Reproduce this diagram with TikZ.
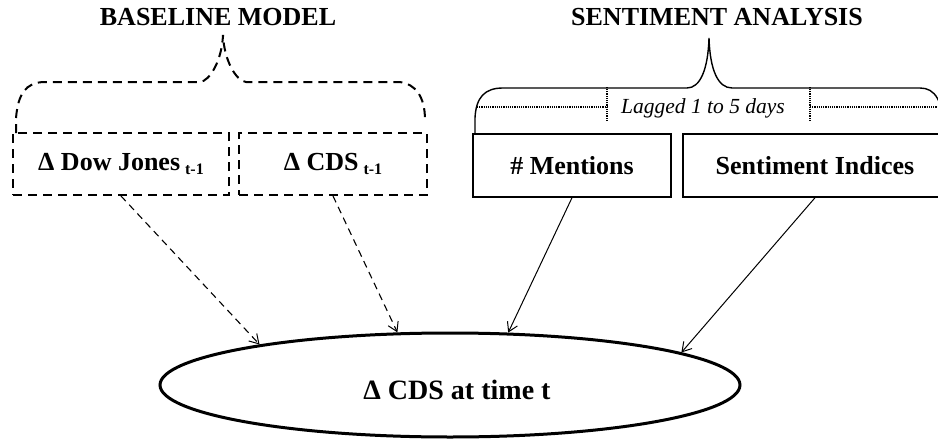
\documentclass[tikz,border=0pt]{standalone}
\usepackage{fontspec}
\setmainfont{Liberation Serif}
\usetikzlibrary{arrows.meta,shapes.geometric}
\newcommand\lowsub[1]{\hspace{5pt}\raisebox{-4pt}{\fontsize{16}{16}\selectfont #1}}
\begin{document}
\begin{tikzpicture}[x=1pt,y=-1pt,
  bigfont/.style={font=\fontsize{26}{30}\selectfont\bfseries},
  titletext/.style={bigfont, inner sep=0pt},
  dbox/.style={draw, dash pattern=on 9pt off 6pt, line width=2pt, inner sep=0pt, bigfont},
  sbox/.style={draw, line width=1.5pt, inner sep=0pt, bigfont},
  target/.style={draw, ellipse, line width=3pt, inner sep=0pt, font=\fontsize{28}{32}\selectfont\bfseries},
  dasharrow/.style={line width=1.1pt, dash pattern=on 7pt off 5pt, -{Straight Barb[length=9pt,width=11pt,line width=1pt]}},
  solidarrow/.style={line width=1pt, -{Straight Barb[length=9pt,width=11pt,line width=1pt]}},
  dbrace/.style={line width=2pt, dash pattern=on 9pt off 6pt},
  sbrace/.style={line width=1.4pt},
  lagline/.style={line width=1.3pt, dash pattern=on 1.2pt off 1pt}
]
\useasboundingbox[fill=white] (0,0) rectangle (938,439);

% titles
\node[titletext] (t1) at (218,17) {BASELINE MODEL};
\node[titletext] (t2) at (717,17) {SENTIMENT ANALYSIS};

% baseline boxes
\node[dbox, minimum width=216pt, minimum height=62pt] (dj) at (121,164) {Δ Dow Jones\lowsub{t-1}};
\node[dbox, minimum width=188pt, minimum height=62pt] (cds) at (333,164) {Δ CDS\lowsub{t-1}};

% sentiment boxes
\node[sbox, minimum width=198pt, minimum height=63pt] (men) at (572,165.5) {\# Mentions};
\node[sbox, minimum width=264pt, minimum height=63pt] (sen) at (815,165.5) {Sentiment Indices};

% target
\node[target, minimum width=580pt, minimum height=104pt, text height=30pt, text depth=1.4pt] (out) at (450,385) {\hspace*{14pt}Δ CDS at time t};

% baseline brace
\draw[dbrace] (16,133) -- (16,118) .. controls (18,95) and (25,82) .. (45,82) -- (200,82)
  .. controls (210,81) and (222,60) .. (223,35)
  .. controls (224,60) and (236,81) .. (246,82) -- (400,82)
  .. controls (415,84) and (425,96) .. (425,120);

% sentiment brace
\draw[sbrace] (475,134) -- (475,118) .. controls (476,97) and (485,88) .. (503,88) -- (687,88)
  .. controls (700,88) and (708,70) .. (709,38)
  .. controls (710,70) and (718,88) .. (732,88) -- (920,88)
  .. controls (935,88) and (943,100) .. (945,134);

% lag label
\node[font=\fontsize{21.5}{24}\selectfont\itshape, inner sep=0pt] (lag) at (703,108) {Lagged 1 to 5 days};
\coordinate (lagL) at (477,107);
\coordinate (lagA) at (607,107);
\coordinate (lagB) at (810,107);
\coordinate (lagR) at (940,107);
\draw[lagline] (lagL) -- (lagA);
\draw[lagline] (lagB) -- (lagR);
\draw[lagline] ([yshift=-14pt]lagA) -- ([yshift=20pt]lagA);
\draw[lagline] ([yshift=-14pt]lagB) -- ([yshift=20pt]lagB);

% connectors
\draw[dasharrow] (dj.south) -- (out.168);
\draw[dasharrow] (cds.south) -- (out.135.6);
\draw[solidarrow] (men.south) -- (out.42);
\draw[solidarrow] (sen.south) -- (out.8);
\end{tikzpicture}
\end{document}
